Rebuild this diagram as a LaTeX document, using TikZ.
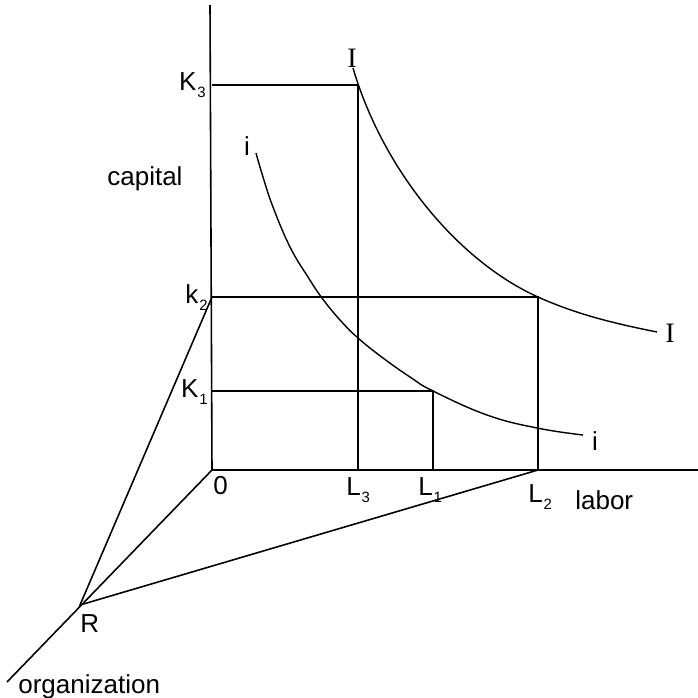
\documentclass[tikz,border=0pt]{standalone}
\usepackage{fontspec}
\setmainfont{Liberation Sans}
\newfontfamily\curvefont{Liberation Serif}
\usetikzlibrary{positioning}
\newcommand{\lsub}[2]{#1\kern0.5pt\raisebox{-4pt}{\fontsize{8.5}{10}\selectfont #2}}

\begin{document}
\begin{tikzpicture}[
    x=0.02cm, y=-0.02cm,
    axis/.style={line width=0.9pt},
    guide/.style={line width=0.9pt},
    curve/.style={line width=0.8pt},
    lbl/.style={inner sep=0pt, font=\fontsize{14.8}{17}\selectfont},
    curvelbl/.style={inner sep=0pt, font=\curvefont\fontsize{16}{18}\selectfont},
]
\useasboundingbox (0,0) rectangle (698,698);

% axes
\coordinate (O) at (212,470);
\coordinate (captop) at (210,5);
\coordinate (labend) at (698,470);
\coordinate (orgend) at (7,682);
\coordinate (R) at (80,605);
\draw[axis] (captop) -- (O) -- (labend);
\draw[axis] (O) -- (orgend);

% levels on the axes and on the curves
\coordinate (K3) at (212,85);
\coordinate (k2) at (212,297);
\coordinate (K1) at (212,391);
\coordinate (L3) at (358,470);
\coordinate (L1) at (433,470);
\coordinate (L2) at (538,470);
\coordinate (P3) at (358,85);
\coordinate (P2) at (538,297);
\coordinate (P1) at (433,391);

\draw[guide] (K3) -- (P3) -- (L3);
\draw[guide] (k2) -- (P2) -- (L2);
\draw[guide] (K1) -- (P1) -- (L1);
\draw[guide] (k2) -- (R) -- (L2);

% isoquants
\coordinate (Istart) at (353,68);
\coordinate (Iend) at (657,332);
\draw[curve] (Istart) .. controls (383,170) and (458,261) .. (P2)
    .. controls (578,315) and (617,324) .. (Iend);
\draw[curve] plot[smooth, tension=0.7] coordinates {(256,153) (263,177) (273,207) (290,247) (308,277) (322,298) (340,320) (358,338) (383,358) (410,377) (433,391) (487,415) (537,428) (583,435)};

% labels
\node[lbl, anchor=base east] (k3lbl) at (206,90) {\lsub{K}{3}};
\node[lbl, anchor=base east] (k2lbl) at (208,303) {\lsub{k}{2}};
\node[lbl, anchor=base east] (k1lbl) at (208,397) {\lsub{K}{1}};
\node[lbl, anchor=base west] (cap) at (107,185) {capital};
\node[lbl, anchor=base west] (zero) at (213,494) {0};
\node[lbl, anchor=base west] (l3lbl) at (346,495) {\lsub{L}{3}};
\node[lbl, anchor=base west] (l1lbl) at (418,495) {\lsub{L}{1}};
\node[lbl, anchor=base west] (l2lbl) at (528,502) {\lsub{L}{2}};
\node[lbl, anchor=base west] (lab) at (575,509) {labor};
\node[lbl, anchor=base west] (rlbl) at (80,632) {R};
\node[lbl, anchor=base west] (org) at (18,693) {organization};
\node[lbl, anchor=base] (ileft) at (247,155) {i};
\node[lbl, anchor=base] (iright) at (595,450) {i};
\node[curvelbl, anchor=base] (Itop) at (352,67) {I};
\node[curvelbl, anchor=base] (Iright) at (670,342) {I};
\end{tikzpicture}
\end{document}
